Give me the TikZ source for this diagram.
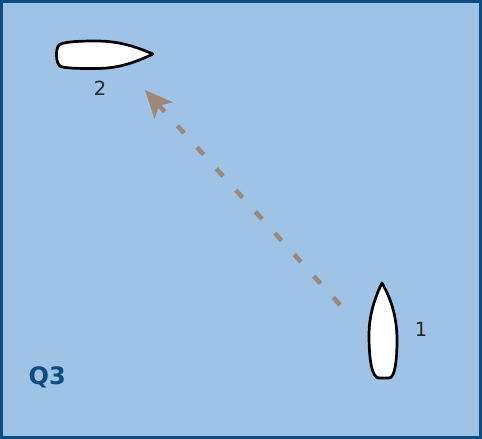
\documentclass[tikz,border=0pt]{standalone}
\usepackage{fontspec}
\setmainfont{DejaVu Sans}
\usetikzlibrary{arrows.meta}
\definecolor{sea}{HTML}{9EC3E6}
\definecolor{frame}{HTML}{0E4C82}
\definecolor{track}{HTML}{9E8878}
\tikzset{
  boat/.style={draw=black, fill=white, line width=2.7pt, line join=round},
  boatlabel/.style={inner sep=0pt, font=\fontsize{19.5}{19.5}\selectfont, text=black!85},
  course/.style={draw=track, line width=4.5pt, dash pattern=on 10pt off 19pt,
    -{Stealth[length=28pt, width=25pt, inset=7pt, line width=0pt]}},
}
\begin{document}
\begin{tikzpicture}[x=1pt,y=-1pt]
\useasboundingbox (0,0) rectangle (482,439);
\draw[fill=sea, draw=frame, line width=3pt] (1.5,1.5) rectangle (480.5,437.5);
% boat 2 (horizontal)
\draw[boat] (153,54) .. controls (132,45) and (116,41) .. (96,41)
  .. controls (76,41) and (63,42) .. (59,45)
  .. controls (55.5,48) and (55.5,63) .. (60,66)
  .. controls (64,68.5) and (80,68.5) .. (96,68.5)
  .. controls (116,68.5) and (132,64) .. (153,54) -- cycle;
% boat 1 (vertical)
\draw[boat] (382,283) .. controls (375,297) and (369,315) .. (369,335)
  .. controls (369,360) and (372,378) .. (379,378) -- (389,378)
  .. controls (395,378) and (397,360) .. (397,340)
  .. controls (397,315) and (390,297) .. (382,283) -- cycle;
\node[boatlabel] (lab2) at (100,88.5) {2};
\node[boatlabel] (lab1) at (421,329) {1};
\coordinate (from) at (340,305);
\coordinate (to) at (145,90);
\draw[course] (from) -- (to);
\node[anchor=base west, inner sep=0pt, text=frame,
  font=\bfseries\fontsize{24}{24}\selectfont] (q3) at (28.5,384.5) {Q3};
\end{tikzpicture}
\end{document}
